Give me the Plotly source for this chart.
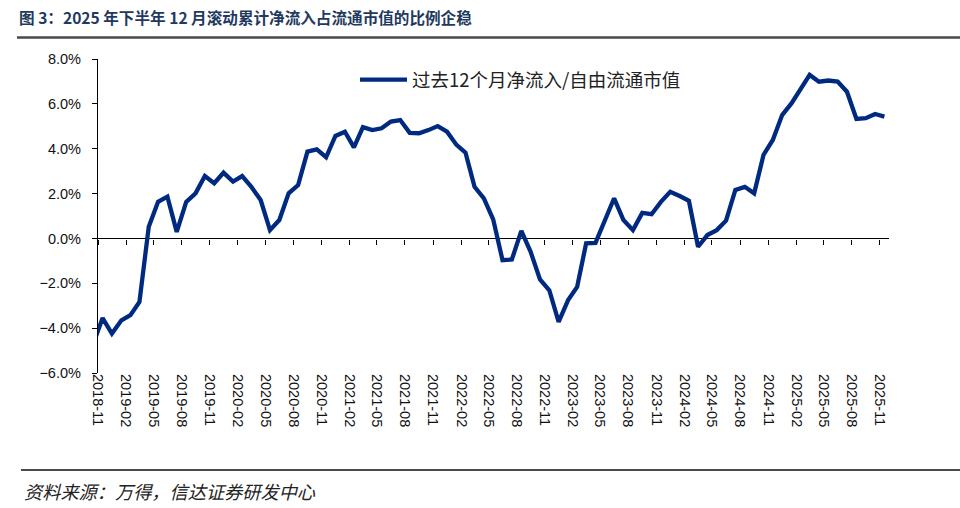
import pandas as pd
import plotly.graph_objects as go

# ---- data ----
months = [d.strftime("%Y-%m") for d in pd.date_range("2018-10-01", "2025-11-01", freq="MS")]
net_inflow_ratio = [
    -4.70,                                   # 2018-10
    -3.55, -4.24,                            # 2018-11..12
    -3.65, -3.42, -2.83, 0.52, 1.63, 1.86, 0.29, 1.63, 2.01, 2.78, 2.46, 2.93,   # 2019
    2.53, 2.78, 2.30, 1.71, 0.37, 0.82, 2.01, 2.38, 3.87, 3.97, 3.62, 4.57,      # 2020
    4.76, 4.06, 4.96, 4.83, 4.91, 5.21, 5.28, 4.71, 4.69, 4.83, 5.01, 4.76,      # 2021
    4.17, 3.82, 2.30, 1.79, 0.85, -0.97, -0.94, 0.34, -0.60, -1.83, -2.31, -3.72, # 2022
    -2.75, -2.16, -0.22, -0.20, 0.82, 1.79, 0.82, 0.37, 1.14, 1.08, 1.63, 2.08,  # 2023
    1.89, 1.68, -0.37, 0.15, 0.37, 0.79, 2.16, 2.30, 2.01, 3.72, 4.39, 5.50,     # 2024
    6.03, 6.62, 7.29, 6.99, 7.04, 6.99, 6.54, 5.33, 5.36, 5.55, 5.43,            # 2025
]
series_name = "过去12个月净流入/自由流通市值"
tick_labels = months[1::3]           # 2018-11, 2019-02, ... 2025-11
y_ticks = [-6, -4, -2, 0, 2, 4, 6, 8]
y_tick_text = [f"{v:.1f}%".replace("-", "\u2212") for v in y_ticks]

title_text = "图 3：2025 年下半年 12 月滚动累计净流入占流通市值的比例企稳"
source_text = "资料来源：万得，信达证券研发中心"

# ---- layout geometry ----
W, H = 960, 508
ML, MR, MT, MB = 98, 71, 59, 135
PW, PH = W - ML - MR, H - MT - MB


def px(xp):
    return (xp - ML) / PW


def py(yp):
    return (H - MB - yp) / PH


x_dates = [m + "-01" for m in months]
tick_dates = [m + "-01" for m in tick_labels]
x_range = ["2018-11-01", "2025-12-01"]
y_min, y_max = -6, 8

fig = go.Figure()
fig.add_trace(go.Scatter(
    x=x_dates, y=net_inflow_ratio, name=series_name,
    mode="lines", xperiod="M1", xperiodalignment="middle",
    line=dict(color="#002A80", width=4.3, shape="linear"),
    showlegend=True,
))

axis_font = dict(family="Liberation Sans, Arial, sans-serif", size=14.5, color="#111")

fig.update_layout(
    width=W, height=H,
    margin=dict(l=ML, r=MR, t=MT, b=MB, pad=0),
    paper_bgcolor="white", plot_bgcolor="white",
    showlegend=True,
    legend=dict(
        x=px(355), y=py(80), xanchor="left", yanchor="middle",
        bgcolor="rgba(0,0,0,0)", borderwidth=0, itemwidth=47,
        font=dict(family="Noto Sans CJK SC", size=18.5, color="#222"),
    ),
    xaxis=dict(
        type="date", range=x_range,
        anchor="free", position=(0 - y_min) / (y_max - y_min),
        showline=True, linecolor="black", linewidth=1.3,
        ticks="outside", ticklen=5, tickwidth=1.3, tickcolor="black",
        tickvals=tick_dates, showticklabels=False,
        showgrid=False, zeroline=False, layer="below traces",
    ),
    xaxis2=dict(
        type="date", range=x_range, overlaying="x", anchor="y", side="bottom",
        showline=False, ticks="", showgrid=False, zeroline=False,
        tickvals=tick_dates, ticktext=tick_labels, tickangle=90,
        tickfont=axis_font,
    ),
    yaxis=dict(
        range=[y_min, y_max], tickvals=y_ticks, ticktext=y_tick_text,
        showline=True, linecolor="black", linewidth=1.3,
        ticks="outside", ticklen=5, tickwidth=1.3, tickcolor="black",
        showgrid=False, zeroline=False, tickfont=axis_font,
        ticklabelstandoff=8,
    ),
)

# label-only axis reference trace (no visible marks)
fig.add_trace(go.Scatter(x=[x_range[0]], y=[None], xaxis="x2", yaxis="y",
                         showlegend=False, hoverinfo="skip", mode="lines"))

fig.add_annotation(
    xref="paper", yref="paper", x=px(17), y=py(17), xanchor="left", yanchor="middle",
    text="<b>" + title_text + "</b>", showarrow=False,
    font=dict(family="Noto Sans CJK SC", size=15.6, color="#1F3A60"),
)
fig.add_annotation(
    xref="paper", yref="paper", x=px(22), y=py(491), xanchor="left", yanchor="middle",
    text="<i>" + source_text + "</i>", showarrow=False,
    font=dict(family="Noto Sans CJK SC", size=18.2, color="#222"),
)
fig.add_shape(type="line", xref="paper", yref="paper",
              x0=px(17), x1=px(960), y0=py(37.5), y1=py(37.5),
              line=dict(color="#4a4a4a", width=2.5))
fig.add_shape(type="line", xref="paper", yref="paper",
              x0=px(21), x1=px(960), y0=py(470), y1=py(470),
              line=dict(color="#111", width=1.3))

fig.write_html("out.html", config={"displayModeBar": False},
               post_script="document.body.style.margin='0';")
